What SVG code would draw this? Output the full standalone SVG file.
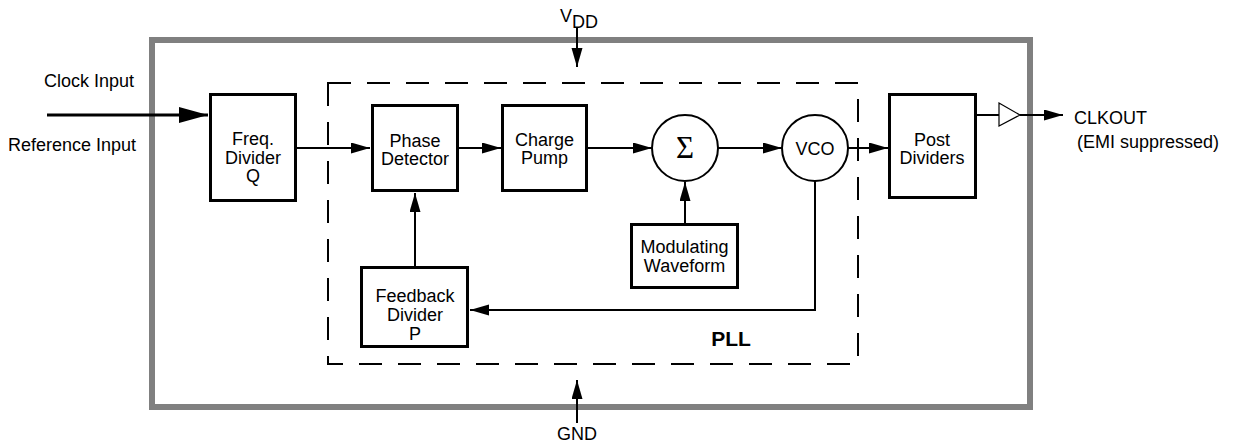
<svg xmlns="http://www.w3.org/2000/svg" width="1236" height="447" viewBox="0 0 1236 447">
<style>
text{font-family:"Liberation Sans",Arial,sans-serif;font-size:18px;fill:#000}
.c{text-anchor:middle}
.box{fill:#fff;stroke:#000;stroke-width:3}
.circ{fill:#fff;stroke:#000;stroke-width:2}
.w{fill:none;stroke:#000;stroke-width:2}
</style>
<defs>
<marker id="a" markerUnits="userSpaceOnUse" markerWidth="20" markerHeight="12" refX="19" refY="5.5" orient="auto">
<path d="M0,0 L19,5.5 L0,11 z" fill="#000"/>
</marker>
<marker id="big" markerUnits="userSpaceOnUse" markerWidth="30" markerHeight="17" refX="29" refY="8" orient="auto">
<path d="M0,0 L29,8 L0,16 z" fill="#000"/>
</marker>
</defs>
<rect id="chip" x="152" y="40" width="878" height="367" fill="none" stroke="#808080" stroke-width="6"/>
<g id="pll">
<rect x="328" y="83" width="530" height="281" fill="none" stroke="#000" stroke-width="2" stroke-dasharray="23 16"/>
<text x="731" y="346" class="c" style="font-weight:bold;font-size:21px">PLL</text>
</g>
<g id="connectors">
<line x1="47" y1="115" x2="208" y2="115" stroke="#000" stroke-width="3" marker-end="url(#big)"/>
<line x1="297" y1="148" x2="370" y2="148" class="w" marker-end="url(#a)"/>
<line x1="459" y1="148" x2="501" y2="148" class="w" marker-end="url(#a)"/>
<line x1="588" y1="148" x2="652" y2="148" class="w" marker-end="url(#a)"/>
<line x1="718" y1="148" x2="782" y2="148" class="w" marker-end="url(#a)"/>
<line x1="848" y1="148" x2="888" y2="148" class="w" marker-end="url(#a)"/>
<line x1="685" y1="223" x2="685" y2="182" class="w" marker-end="url(#a)"/>
<line x1="415" y1="266" x2="415" y2="193" class="w" marker-end="url(#a)"/>
<polyline points="815,181 815,310 470,310" class="w" marker-end="url(#a)"/>
<line x1="977" y1="115" x2="999" y2="115" class="w"/>
<polygon points="999,103 1020,115 999,126" fill="#fff" stroke="#000" stroke-width="1.2"/>
<line x1="1020" y1="115" x2="1063" y2="115" class="w" marker-end="url(#a)"/>
<line x1="577" y1="27" x2="577" y2="67" class="w" marker-end="url(#a)"/>
<line x1="577" y1="423" x2="577" y2="380" class="w" marker-end="url(#a)"/>
</g>
<g id="labels">
<text x="44" y="87">Clock Input</text>
<text x="8" y="151">Reference Input</text>
<text x="560" y="22">V<tspan dy="6">DD</tspan></text>
<text x="577" y="440" class="c">GND</text>
<text x="1074" y="124">CLKOUT</text>
<text x="1077" y="148">(EMI suppressed)</text>
</g>
<g id="freq">
<rect x="210.5" y="94.5" width="85" height="106" class="box"/>
<text x="253" y="145" class="c">Freq.</text>
<text x="253" y="164" class="c">Divider</text>
<text x="253" y="182" class="c">Q</text>
</g>
<g id="phase">
<rect x="372.5" y="105.5" width="85" height="85" class="box"/>
<text x="415" y="147" class="c">Phase</text>
<text x="415" y="165" class="c">Detector</text>
</g>
<g id="charge">
<rect x="502.5" y="105.5" width="84" height="85" class="box"/>
<text x="544.5" y="146" class="c">Charge</text>
<text x="544.5" y="164" class="c">Pump</text>
</g>
<g id="sum">
<circle cx="685" cy="148" r="33" class="circ"/>
<text x="685" y="158" class="c" style="font-family:'Liberation Serif','Times New Roman',serif;font-size:31px">Σ</text>
</g>
<g id="vco">
<circle cx="815" cy="148" r="33" class="circ"/>
<text x="815" y="155" class="c">VCO</text>
</g>
<g id="post">
<rect x="889.5" y="94.5" width="86" height="103" class="box"/>
<text x="932" y="146" class="c">Post</text>
<text x="932" y="164" class="c">Dividers</text>
</g>
<g id="mod">
<rect x="631.5" y="224.5" width="106" height="63" class="box"/>
<text x="684.5" y="253" class="c">Modulating</text>
<text x="684.5" y="272" class="c">Waveform</text>
</g>
<g id="feedback">
<rect x="361.5" y="267.5" width="106" height="79" class="box"/>
<text x="415" y="302" class="c">Feedback</text>
<text x="415" y="321" class="c">Divider</text>
<text x="415" y="340" class="c">P</text>
</g>
</svg>
